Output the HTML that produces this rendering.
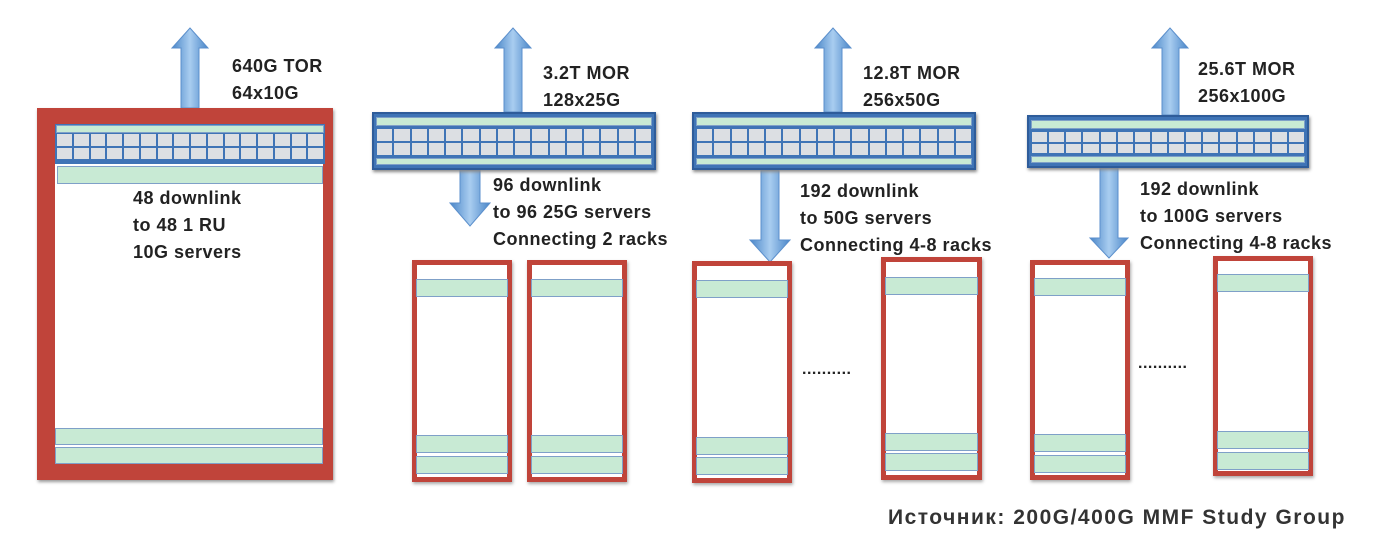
<!DOCTYPE html>
<html><head><meta charset="utf-8"><style>
body{margin:0;width:1384px;height:552px;background:#fff;position:relative;overflow:hidden;font-family:"Liberation Sans",sans-serif}
.a{position:absolute}
.t{position:absolute;font-weight:bold;font-size:18px;letter-spacing:0.5px;color:#222;line-height:27px;white-space:nowrap}
.g{background:#c8ead4;border:1px solid #7fa0c8;box-sizing:border-box}
.sw{position:absolute;background:#3f74b6;box-sizing:border-box;border:2px solid #2e5c9a;box-shadow:1px 2px 3px #888}
.rack{position:absolute;border:5px solid #c0443a;box-sizing:border-box;background:#fff;box-shadow:1px 2px 3px #aaa}
</style></head><body>
<svg class="a" style="left:0;top:0" width="1384" height="552">
<defs><linearGradient id="ar" x1="0" x2="1"><stop offset="0" stop-color="#4a86c8"/><stop offset=".5" stop-color="#a9cdf0"/><stop offset="1" stop-color="#4a86c8"/></linearGradient></defs>
<g fill="url(#ar)" stroke="#5b8fcc" stroke-width="1">
<polygon points="181,108 181,48 172,48 190,28 208,48 199,48 199,108"/>
<polygon points="504,112 504,48 495,48 513,28 531,48 522,48 522,112"/>
<polygon points="824,112 824,48 815,48 833,28 851,48 842,48 842,112"/>
<polygon points="1162,115 1162,48 1152,48 1170,28 1188,48 1179,48 1179,115"/>
<polygon points="460,170 480,170 480,203 490,203 470,226 450,203 460,203"/>
<polygon points="761,170 779,170 779,240 790,240 770,262 750,240 761,240"/>
<polygon points="1100,168 1118,168 1118,238 1128,238 1109,258 1090,238 1100,238"/>
</g></svg>
<div id="root"></div>
<div class="t" style="left:232px;top:53px">640G TOR<br>64x10G</div>
<div class="t" style="left:133px;top:185px">48 downlink<br>to 48 1 RU<br>10G servers</div>
<div class="t" style="left:543px;top:60px">3.2T MOR<br>128x25G</div>
<div class="t" style="left:493px;top:172px">96 downlink<br>to 96 25G servers<br>Connecting 2 racks</div>
<div class="t" style="left:863px;top:60px">12.8T MOR<br>256x50G</div>
<div class="t" style="left:800px;top:178px">192 downlink<br>to 50G servers<br>Connecting 4-8 racks</div>
<div class="t" style="left:1198px;top:56px">25.6T MOR<br>256x100G</div>
<div class="t" style="left:1140px;top:176px">192 downlink<br>to 100G servers<br>Connecting 4-8 racks</div>
<div class="t" style="left:802px;top:356px;letter-spacing:0.5px;font-size:16px">..........</div>
<div class="t" style="left:1138px;top:350px;letter-spacing:0.5px;font-size:16px">..........</div>
<div class="a" style="left:888px;top:506px;font-size:21px;letter-spacing:1.5px;font-weight:bold;color:#333;white-space:nowrap">Источник: 200G/400G MMF Study Group</div>
<script>
var R=document.getElementById('root');
function d(css,cls){var e=document.createElement('div');e.className='a '+(cls||'');e.style.cssText=css;R.appendChild(e);return e;}
function grid(x,y,w,h){var cw=w/16,ch=h/2;for(var r=0;r<2;r++)for(var c=0;c<16;c++)d('left:'+(x+c*cw+1)+'px;top:'+(y+r*ch+1)+'px;width:'+(cw-2)+'px;height:'+(ch-2)+'px;background:#dcdfe3');}
function sw(x,y,w,h){var e=d('left:'+x+'px;top:'+y+'px;width:'+w+'px;height:'+h+'px','sw');e.className='sw';
 d('left:'+(x+4)+'px;top:'+(y+5)+'px;width:'+(w-8)+'px;height:9px','g');
 grid(x+4,y+16,w-8,h-30);
 d('left:'+(x+4)+'px;top:'+(y+h-12)+'px;width:'+(w-8)+'px;height:7px','g');}
function rack(x,y,w,h,ts,b1,b2){var e=d('left:'+x+'px;top:'+y+'px;width:'+w+'px;height:'+h+'px');e.className='rack';
 d('left:'+(x+4)+'px;top:'+ts+'px;width:'+(w-8)+'px;height:18px','g');
 d('left:'+(x+4)+'px;top:'+b1+'px;width:'+(w-8)+'px;height:18px','g');
 d('left:'+(x+4)+'px;top:'+b2+'px;width:'+(w-8)+'px;height:18px','g');}
d('left:37px;top:108px;width:296px;height:372px;background:#c0443a;box-shadow:1px 2px 3px #999');
d('left:55px;top:126px;width:268px;height:336px;background:#fff');
d('left:55px;top:124px;width:270px;height:40px;background:#3f74b6');
d('left:56px;top:125px;width:268px;height:8px','g');
grid(56,133,268,27);
d('left:57px;top:166px;width:266px;height:18px','g');
d('left:55px;top:428px;width:268px;height:17px','g');
d('left:55px;top:447px;width:268px;height:17px','g');
sw(372,112,284,58);sw(692,112,284,58);sw(1027,115,282,53);
rack(412,260,100,222,279,435,456);rack(527,260,100,222,279,435,456);
rack(692,261,100,222,280,437,457);rack(881,257,101,223,277,433,453);
rack(1030,260,100,220,278,434,455);rack(1213,256,100,220,274,431,452);
</script>
</body></html>
